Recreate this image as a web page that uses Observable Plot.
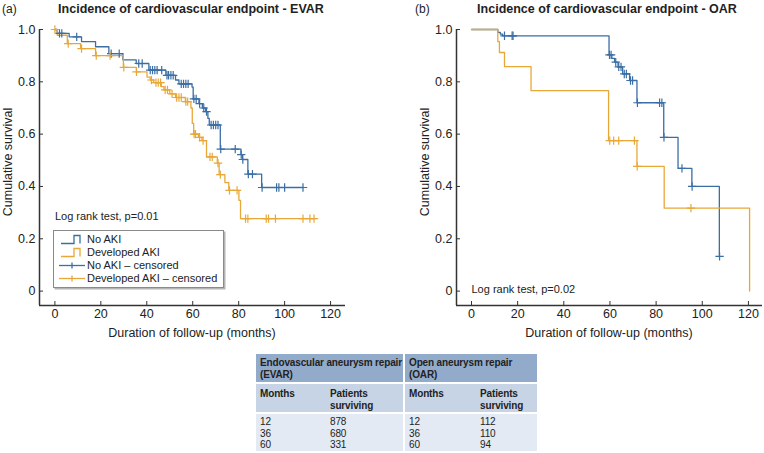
<!DOCTYPE html>
<html><head><meta charset="utf-8">
<script src="https://cdn.jsdelivr.net/npm/d3@7"></script>
<script src="https://cdn.jsdelivr.net/npm/@observablehq/plot@0.6"></script>
<style>
html,body{margin:0;padding:0;background:#fff;}
#root{position:relative;width:764px;height:453px;overflow:hidden;font-family:"Liberation Sans",Arial,Helvetica,sans-serif;color:#222;}
.abs{position:absolute;white-space:nowrap;}
.ylab{width:200px;height:16px;line-height:16px;font-size:12.5px;text-align:center;transform:rotate(-90deg);}
.ttl{font-weight:bold;font-size:12.5px;width:320px;text-align:center;line-height:16px;}
.tag{font-size:12px;line-height:16px;}
.xlab{font-size:12.5px;width:300px;text-align:center;line-height:16px;}
#legend{background:#fff;border:1px solid #8a8a8a;box-shadow:1.5px 1.5px 0 #b5b5b5;font-size:11px;}
#legend .row{position:absolute;left:0;height:13px;line-height:13px;}
#legend svg{position:absolute;}
table.surv{position:absolute;left:256px;top:354px;border-collapse:collapse;font-size:10px;letter-spacing:-0.15px;color:#222;table-layout:fixed;}
table.surv td,table.surv th{padding:0 0 0 4px;text-align:left;vertical-align:top;line-height:11.5px;white-space:nowrap;overflow:visible;}
table.surv th{font-weight:bold;}
table.surv tr.h1{background:#93abca;height:28px;}
table.surv tr.h1 th{padding-top:3px;height:25px;}
table.surv tr.h2{background:#c7d4e6;height:30px;}
table.surv tr.h2 th{padding-top:4px;height:24px;}
table.surv tr.b{background:#e4eaf3;height:38px;}
table.surv tr.b td{padding-top:2px;height:34px;}
table.surv tr.h2 th, table.surv tr.b td{border-top:2px solid #fff;}
table.surv .sep{border-left:2px solid #fff;}
</style></head><body><div id="root"></div>
<script>
// ---------- data ----------
const xTicks = [0, 20, 40, 60, 80, 100, 120];
const yTicks = [0, 0.2, 0.4, 0.6, 0.8, 1.0];
const seriesNames = ["No AKI", "Developed AKI"];
const seriesColors = ["#3b6ea5", "#e8a838"];

// EVAR – No AKI
const evarNoAkiTime = [0, 1, 6.2, 11.6, 17.7, 23.5, 29.6, 35.4, 40.9, 48.3, 52.5, 54, 59.7, 60.2, 62.7, 64.2, 65.6, 66.6, 67.2, 72.0, 81.0, 81.6, 84.0, 90.0, 108.1];
const evarNoAkiSurv = [1.0, 0.985, 0.972, 0.954, 0.934, 0.908, 0.884, 0.870, 0.845, 0.825, 0.807, 0.792, 0.780, 0.735, 0.717, 0.700, 0.686, 0.660, 0.635, 0.543, 0.522, 0.503, 0.447, 0.396, 0.396];
const evarNoAkiCensor = [2, 3, 9.5, 24.5, 28, 36.5, 38, 41.5, 42.5, 43.5, 44.5, 46.5, 48.8, 49.5, 50.5, 51.5, 55, 56, 57, 58, 60.5, 61.5, 63, 64.8, 66, 68, 69, 70, 71, 72.2, 78.5, 81.1, 81.8, 84.2, 86, 90.2, 96.5, 97.5, 100, 108];
// EVAR – Developed AKI
const evarAkiTime = [0, 1, 5.4, 11.2, 17.7, 29.8, 35.5, 40.1, 41.5, 43, 46.3, 47.5, 50, 52.5, 56.8, 59.2, 59.8, 60.4, 62.5, 64, 66, 70.7, 71.5, 74.0, 75.7, 80.1, 80.8, 113.4];
const evarAkiSurv = [1.0, 0.978, 0.946, 0.927, 0.900, 0.855, 0.838, 0.818, 0.807, 0.797, 0.782, 0.769, 0.754, 0.740, 0.724, 0.700, 0.641, 0.600, 0.588, 0.575, 0.513, 0.489, 0.445, 0.415, 0.385, 0.347, 0.277, 0.277];
const evarAkiCensor = [0, 5.8, 11.6, 18, 24, 30, 35.5, 42, 44, 45, 46, 48, 49, 51, 53, 54, 55, 57, 57.8, 60.6, 61.2, 63, 64.5, 67.5, 68.5, 71, 72, 76, 79.3, 83, 84, 92, 93, 96, 108, 111, 112.8];

// OAR – No AKI
const oarNoAkiTime = [0, 11.4, 12.5, 13.5, 59.6, 60.8, 62, 63.5, 65.5, 68.5, 71.7, 83.3, 89.5, 95.5, 107.4];
const oarNoAkiSurv = [1.0, 0.989, 0.982, 0.976, 0.903, 0.890, 0.875, 0.857, 0.830, 0.805, 0.720, 0.588, 0.469, 0.400, 0.133];
const oarNoAkiCensor = [14.3, 17.6, 18, 59.8, 60.5, 62.5, 63.8, 64.8, 66.2, 67.1, 68.9, 69.8, 71.9, 81.5, 82.5, 83.4, 91.2, 95.6, 107.5];
// OAR – Developed AKI
const oarAkiTime = [0, 11.4, 12.1, 14.3, 25.8, 59.4, 71.7, 83.5, 120.5];
const oarAkiSurv = [1.0, 0.954, 0.912, 0.858, 0.766, 0.575, 0.477, 0.317, 0.0];
const oarAkiCensor = [59.9, 61.6, 63.8, 70.6, 71.8, 95.1];

// table
const tableMonths = [12, 36, 60];
const evarSurviving = [878, 680, 331];
const oarSurviving = [112, 110, 94];

// ---------- helpers ----------
const FONT = '"Liberation Sans", Arial, Helvetica, sans-serif';
function steps(time, surv) { return time.map((t, i) => ({t, s: surv[i]})); }
function censored(time, surv, ct) {
  return ct.map(t => { let v = surv[0]; for (let i = 0; i < time.length; i++) if (time[i] <= t) v = surv[i]; return {t, s: v}; });
}
const yFmt = d => d === 0 ? "0" : d.toFixed(1);

function panel(opts) {
  const {xDomain, marginLeft, marginRight, groups, note, noteY} = opts;
  const marks = [
    Plot.ruleX([xDomain[0]], {stroke: "#333", strokeWidth: 1.5}),
    Plot.ruleY([-0.055], {stroke: "#333", strokeWidth: 1.5}),
    Plot.axisX({ticks: xTicks, tickSize: -4, tickPadding: 8, label: null, stroke: "#333"}),
    Plot.axisY({ticks: yTicks, tickSize: -4, tickPadding: 8, label: null, tickFormat: yFmt, stroke: "#333"})
  ];
  groups.forEach((g, i) => {
    marks.push(Plot.line(steps(g.time, g.surv), {x: "t", y: "s", curve: "step-after", stroke: seriesColors[i], strokeWidth: 1.3}));
  });
  groups.forEach((g, i) => {
    marks.push(Plot.dot(censored(g.time, g.surv, g.cens), {x: "t", y: "s", symbol: "plus", r: 2.8, stroke: seriesColors[i], strokeWidth: 1.2}));
  });
  marks.push(Plot.text([note], {x: 0, y: noteY, text: d => d, textAnchor: "start", fontSize: 11, fill: "#222"}));
  return Plot.plot({
    width: 382, height: 320, marginLeft, marginRight, marginTop: 29, marginBottom: 15,
    style: {fontFamily: FONT, fontSize: "12.5px", color: "#222", background: "transparent", overflow: "visible"},
    x: {domain: xDomain},
    y: {domain: [-0.055, 1.0]},
    marks
  });
}

const root = document.getElementById("root");
function addDiv(cls, html, style) {
  const d = document.createElement("div");
  d.className = "abs " + cls; d.innerHTML = html; Object.assign(d.style, style); root.appendChild(d); return d;
}

const left = panel({
  xDomain: [-6.7, 126.5], marginLeft: 39, marginRight: 37,
  groups: [
    {time: evarNoAkiTime, surv: evarNoAkiSurv, cens: evarNoAkiCensor},
    {time: evarAkiTime, surv: evarAkiSurv, cens: evarAkiCensor}
  ],
  note: "Log rank test, p=0.01", noteY: 0.286
});
left.style.position = "absolute"; left.style.left = "0px"; left.style.top = "0px";
root.appendChild(left);

const right = panel({
  xDomain: [-6.5, 126.1], marginLeft: 74, marginRight: 2,
  groups: [
    {time: oarNoAkiTime, surv: oarNoAkiSurv, cens: oarNoAkiCensor},
    {time: oarAkiTime, surv: oarAkiSurv, cens: oarAkiCensor}
  ],
  note: "Log rank test, p=0.02", noteY: 0.006
});
right.style.position = "absolute"; right.style.left = "382px"; right.style.top = "0px";
root.appendChild(right);

// titles and axis labels
addDiv("tag", "(a)", {left: "2px", top: "1px"});
addDiv("ttl", "Incidence of cardiovascular endpoint - EVAR", {left: (191 - 160) + "px", top: "1px"});
addDiv("tag", "(b)", {left: "415px", top: "1px"});
addDiv("ttl", "Incidence of cardiovascular endpoint - OAR", {left: (607 - 160) + "px", top: "1px"});
addDiv("ylab", "Cumulative survival", {left: (8 - 100) + "px", top: (162 - 8) + "px"});
addDiv("ylab", "Cumulative survival", {left: (425 - 100) + "px", top: (162 - 8) + "px"});
addDiv("xlab", "Duration of follow-up (months)", {left: (192 - 150) + "px", top: (333 - 8) + "px"});
addDiv("xlab", "Duration of follow-up (months)", {left: (609 - 150) + "px", top: (333 - 8) + "px"});

// legend
const legendLabels = ["No AKI", "Developed AKI", "No AKI \u2013 censored", "Developed AKI \u2013 censored"];
const lg = addDiv("", "", {left: "53px", top: "230px", width: "169px", height: "56px"});
lg.id = "legend";
legendLabels.forEach((lab, i) => {
  const col = seriesColors[i % 2];
  const top = 2 + i * 13;
  const row = document.createElement("div");
  row.className = "row"; row.style.top = top + "px"; row.style.width = "169px";
  let sym;
  if (i < 2) {
    sym = `<svg width="22" height="13" style="left:6px;top:0"><path d="M1,10.5H14V2.5H20V10.5" fill="none" stroke="${col}" stroke-width="1.3"/></svg>`;
  } else {
    sym = `<svg width="28" height="13" style="left:4px;top:0"><path d="M1,6.5H27" stroke="${col}" stroke-width="1.3"/><path d="M14,3.5V9.5" stroke="${col}" stroke-width="1.3"/></svg>`;
  }
  row.innerHTML = sym + `<span style="position:absolute;left:33px;top:0">${lab}</span>`;
  lg.appendChild(row);
});

// table
const tbl = document.createElement("table");
tbl.className = "surv";
const colW = [70, 78, 72, 61];
let html = "<colgroup>" + colW.map(w => `<col style="width:${w}px">`).join("") + "</colgroup>";
html += `<tr class="h1"><th colspan="2">Endovascular aneurysm repair<br>(EVAR)</th><th colspan="2" class="sep">Open aneurysm repair<br>(OAR)</th></tr>`;
html += `<tr class="h2"><th>Months</th><th>Patients<br>surviving</th><th class="sep">Months</th><th>Patients<br>surviving</th></tr>`;
html += `<tr class="b"><td>${tableMonths.join("<br>")}</td><td>${evarSurviving.join("<br>")}</td><td class="sep">${tableMonths.join("<br>")}</td><td>${oarSurviving.join("<br>")}</td></tr>`;
tbl.innerHTML = html;
tbl.style.width = colW.reduce((a, b) => a + b, 0) + "px";
root.appendChild(tbl);
</script></body></html>
